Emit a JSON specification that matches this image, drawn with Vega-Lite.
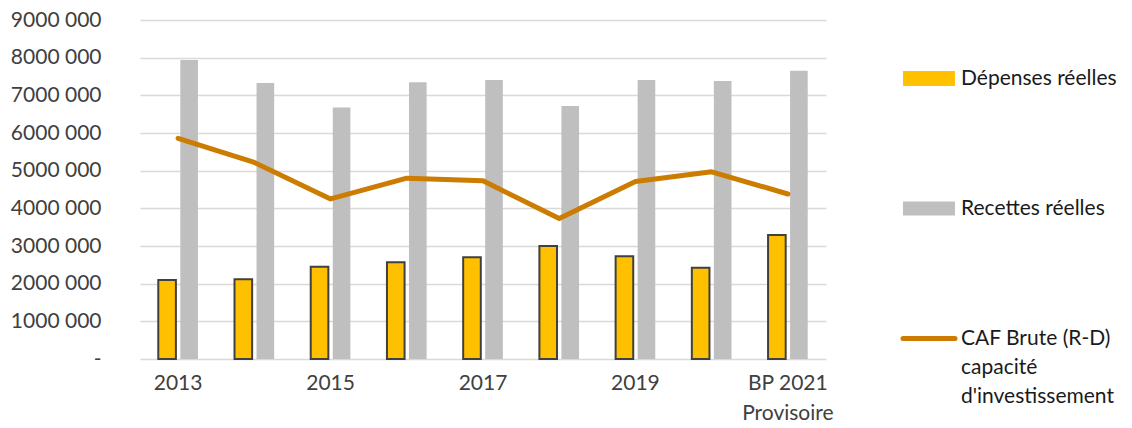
{
  "$schema": "https://vega.github.io/schema/vega-lite/v6.json",
  "width": 686,
  "height": 339,
  "autosize": "none",
  "padding": {"left": 140, "top": 20, "right": 306, "bottom": 69},
  "background": "white",
  "config": {
    "view": {"stroke": null},
    "font": "Lato",
    "axis": {"labelFont": "Lato", "labelFontSize": 21, "labelColor": "#404040"},
    "legend": {"symbolSize": 2704, "symbolStrokeWidth": 2}
  },
  "datasets": {
    "bars": [
      {"cat": "2013", "serie": "Dépenses réelles", "value": 2100000},
      {"cat": "2013", "serie": "Recettes réelles", "value": 7940000},
      {"cat": "2014", "serie": "Dépenses réelles", "value": 2120000},
      {"cat": "2014", "serie": "Recettes réelles", "value": 7330000},
      {"cat": "2015", "serie": "Dépenses réelles", "value": 2450000},
      {"cat": "2015", "serie": "Recettes réelles", "value": 6680000},
      {"cat": "2016", "serie": "Dépenses réelles", "value": 2570000},
      {"cat": "2016", "serie": "Recettes réelles", "value": 7350000},
      {"cat": "2017", "serie": "Dépenses réelles", "value": 2700000},
      {"cat": "2017", "serie": "Recettes réelles", "value": 7410000},
      {"cat": "2018", "serie": "Dépenses réelles", "value": 3000000},
      {"cat": "2018", "serie": "Recettes réelles", "value": 6720000},
      {"cat": "2019", "serie": "Dépenses réelles", "value": 2730000},
      {"cat": "2019", "serie": "Recettes réelles", "value": 7410000},
      {"cat": "2020", "serie": "Dépenses réelles", "value": 2420000},
      {"cat": "2020", "serie": "Recettes réelles", "value": 7380000},
      {"cat": "BP 2021 Provisoire", "serie": "Dépenses réelles", "value": 3290000},
      {"cat": "BP 2021 Provisoire", "serie": "Recettes réelles", "value": 7650000}
    ],
    "line": [
      {"cat": "2013", "serie": "CAF Brute (R-D) capacité d'investissement", "value": 5860000},
      {"cat": "2014", "serie": "CAF Brute (R-D) capacité d'investissement", "value": 5220000},
      {"cat": "2015", "serie": "CAF Brute (R-D) capacité d'investissement", "value": 4250000},
      {"cat": "2016", "serie": "CAF Brute (R-D) capacité d'investissement", "value": 4800000},
      {"cat": "2017", "serie": "CAF Brute (R-D) capacité d'investissement", "value": 4730000},
      {"cat": "2018", "serie": "CAF Brute (R-D) capacité d'investissement", "value": 3730000},
      {"cat": "2019", "serie": "CAF Brute (R-D) capacité d'investissement", "value": 4710000},
      {"cat": "2020", "serie": "CAF Brute (R-D) capacité d'investissement", "value": 4970000},
      {"cat": "BP 2021 Provisoire", "serie": "CAF Brute (R-D) capacité d'investissement", "value": 4380000}
    ]
  },
  "encoding": {
    "x": {
      "field": "cat", "type": "nominal", "title": null,
      "scale": {"domain": ["2013","2014","2015","2016","2017","2018","2019","2020","BP 2021 Provisoire"], "paddingInner": 0, "paddingOuter": 0},
      "axis": {
        "values": ["2013","2015","2017","2019","BP 2021 Provisoire"],
        "labelExpr": "datum.value == 'BP 2021 Provisoire' ? ['BP 2021', 'Provisoire'] : datum.value",
        "labelAngle": 0, "ticks": false, "domain": false, "labelPadding": 13, "labelLineHeight": 30, "labelBaseline": "top"
      }
    },
    "y": {
      "field": "value", "type": "quantitative", "title": null,
      "scale": {"domain": [0, 9000000], "nice": false},
      "axis": {
        "values": [0,1000000,2000000,3000000,4000000,5000000,6000000,7000000,8000000,9000000],
        "labelExpr": "datum.value == 0 ? '-' : format(datum.value/1000, 'd') + ' 000'",
        "ticks": false, "domain": false, "labelPadding": 39,
        "gridColor": "#D9D9D9", "gridWidth": 1.5,
        "encode": {"labels": {"update": {"dx": {"signal": "datum.value == 0 ? -11 : 0"}}}}
      }
    },
    "color": {
      "field": "serie", "type": "nominal",
      "scale": {
        "domain": ["Dépenses réelles", "Recettes réelles", "CAF Brute (R-D) capacité d'investissement"],
        "range": ["#FFC000", "#BFBFBF", "#CC7C00"]
      },
      "legend": {
        "title": null, "orient": "none", "legendX": 763, "legendY": 48,
        "padding": 0,
        "labelFont": "Lato", "labelFontSize": 21, "labelColor": "#1a1a1a",
        "labelLimit": 400, "labelOffset": 4, "rowPadding": 108,
        "symbolSize": 2704, "symbolStrokeWidth": 2,
        "labelExpr": "substring(datum.label, 0, 3) == 'CAF' ? ['CAF Brute (R-D)', 'capacité', \"d'investissement\"] : datum.label",
        "encode": {
          "symbols": {
            "update": {
              "x": {"value": 26},
              "shape": {"signal": "substring(datum.value, 0, 3) == 'CAF' ? 'M-1,0H1' : (datum.value == 'Dépenses réelles' ? 'M-0.96,-0.25H0.96V0.25H-0.96Z' : 'M-1,-0.27H1V0.27H-1Z')"},
              "fill": {"signal": "substring(datum.value, 0, 3) == 'CAF' ? 'transparent' : (datum.value == 'Dépenses réelles' ? '#FFC000' : '#BFBFBF')"},
              "strokeWidth": {"signal": "datum.value == 'Dépenses réelles' ? 2 : (datum.value == 'Recettes réelles' ? 0 : 5)"},
              "strokeCap": {"value": "round"},
              "opacity": {"value": 1},
              "fillOpacity": {"value": 1},
              "strokeOpacity": {"value": 1}
            }
          },
          "labels": {
            "update": {
              "x": {"value": 58},
              "lineHeight": {"value": 29}
            }
          }
        }
      }
    }
  },
  "layer": [
    {
      "data": {"name": "bars"},
      "mark": {"type": "bar", "strokeWidth": 2},
      "encoding": {
        "xOffset": {
          "field": "serie", "type": "nominal",
          "scale": {"domain": ["Dépenses réelles", "Recettes réelles"], "paddingInner": 0.2, "paddingOuter": 0.83}
        },
        "stroke": {"condition": {"test": "datum.serie == 'Dépenses réelles'", "value": "#404040"}, "value": "transparent"}
      }
    },
    {
      "data": {"name": "line"},
      "mark": {"type": "line", "strokeWidth": 5, "strokeCap": "round", "strokeJoin": "round"}
    }
  ]
}
